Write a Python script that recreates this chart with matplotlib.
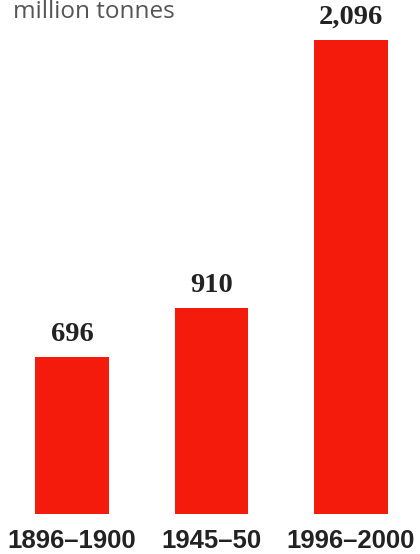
import matplotlib
matplotlib.use("Agg")
import matplotlib.pyplot as plt

categories = ["1896–1900", "1945–50", "1996–2000"]
values = [696, 910, 2096]
value_labels = ["696", "910", "2,096"]
unit_label = "million tonnes"

fig = plt.figure(figsize=(4.2, 5.54), dpi=100)
ax = fig.add_axes([0, 40 / 554, 1, 514 / 554])
x = list(range(len(categories)))
ax.bar(x, values, width=0.53, color="#f41a0c", edgecolor="none")
ax.set_xlim(-72 / 139.5, (420 - 72) / 139.5)
ax.set_ylim(0, 514 * 4.42)
for s in ax.spines.values():
    s.set_visible(False)
ax.set_yticks([])
ax.set_xticks(x)
ax.set_xticklabels(categories, fontsize=18.5, fontweight="bold", color="#222222",
                   family="Liberation Sans")
ax.tick_params(axis="x", length=0, pad=11)
for xi, v, lab in zip(x, values, value_labels):
    ax.annotate(lab, (xi, v), xytext=(0, 10), textcoords="offset pixels",
                ha="center", va="bottom", fontsize=20.5, fontweight="bold",
                family="Liberation Serif", color="#222222")
fig.text(13 / 420, 1 - 0 / 554, unit_label, ha="left", va="top", fontsize=17.5,
         family="Open Sans", color="#555555")
fig.savefig("out.png", dpi=100)
